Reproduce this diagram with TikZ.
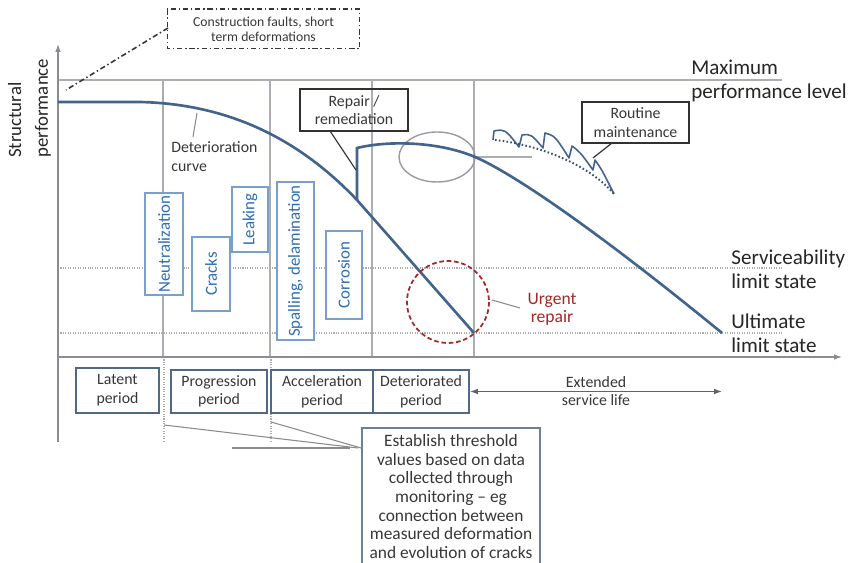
\documentclass[tikz,border=0pt]{standalone}
\usepackage{fontspec}
\setmainfont{Carlito}
\usetikzlibrary{arrows.meta}
\definecolor{curvecol}{RGB}{66,100,140}
\definecolor{gridcol}{RGB}{172,172,178}
\definecolor{axiscol}{RGB}{140,140,150}
\definecolor{bluetext}{RGB}{46,110,180}
\definecolor{blueborder}{RGB}{120,160,205}
\definecolor{periodcol}{RGB}{80,105,135}
\definecolor{txtcol}{RGB}{55,55,55}
\definecolor{urgentcol}{RGB}{165,40,40}
\newlength{\pxu}\setlength{\pxu}{0.02cm}
\newcommand{\setfs}[2]{\fontsize{#1}{#2}\selectfont}
\tikzset{
  gridline/.style={draw=gridcol, line width=0.6pt},
  dotline/.style={draw=gridcol, line width=0.6pt, dash pattern=on 0.6pt off 0.8pt},
  axisline/.style={draw=axiscol, line width=0.7pt},
  curveline/.style={draw=curvecol, line width=1.5pt},
  leader/.style={draw=gridcol!80!black, line width=0.6pt},
  darkleader/.style={draw=txtcol, line width=0.7pt},
  dashdotline/.style={draw=txtcol, line width=0.9pt, dash pattern=on 3pt off 1.6pt on 0.8pt off 1.6pt},
  bluebox/.style={draw=blueborder, fill=white, line width=0.9pt, text=bluetext, inner sep=0pt, font=\setfs{9.6}{10}},
  periodbox/.style={draw=periodcol, fill=white, line width=1.1pt, text=txtcol, inner sep=0pt, align=center, font=\setfs{9}{10.6}},
  callout/.style={draw=txtcol!90!black, line width=0.8pt, text=txtcol, inner sep=0pt, align=center, font=\setfs{9}{10.6}},
  biglabel/.style={text=black!85, inner sep=0pt, align=left, anchor=west, font=\setfs{12}{13.6}},
  smalllabel/.style={text=txtcol, inner sep=0pt, font=\setfs{9}{10.6}},
  tip/.style={-{Latex[length=4.5pt,width=3.2pt]}}
}
\begin{document}
\begin{tikzpicture}[x=0.02cm, y=-0.02cm]
\useasboundingbox (0,0) rectangle (849,563);
\fill[white] (0,0) rectangle (849,563);
\clip (0,0) rectangle (849,563);

% grid and limit lines
\draw[gridline] (58,80) -- (782,80);
\foreach \gx in {163,270,372,474} \draw[gridline] (\gx,80) -- (\gx,357);
\draw[dotline] (58,268) -- (782,268);
\draw[dotline] (58,333) -- (782,333);
\draw[dotline] (164,357) -- (164,443);
\draw[dotline] (271,357) -- (271,443);

% axes
\coordinate (ybot) at (58,442);
\coordinate (ytop) at (58,44);
\coordinate (xleft) at (58,357);
\coordinate (xright) at (842,357);
\draw[axisline, tip, axiscol] (ybot) -- (ytop);
\draw[axisline, tip, axiscol] (xleft) -- (xright);

% axis label
\node[rotate=90, anchor=west, align=left, inner sep=0pt, text=black!85, font=\setfs{10.7}{15.3}] (ylab) at (29.5,158) {Structural\\performance};

% right labels
\node[biglabel] (maxlab) at (691,81) {Maximum\\performance level};
\node[biglabel] (sls) at (731,269) {Serviceability\\limit state};
\node[biglabel] (uls) at (731,333) {Ultimate\\limit state};

% maintenance ellipse
\draw[gridcol!90!black, line width=0.8pt] (437,157) ellipse [x radius=38, y radius=25];
\coordinate (ell1) at (475,157);
\coordinate (ell2) at (532,157);
\draw[gridline] (ell1) -- (ell2);

% deterioration curve
\draw[curveline] (58,102) -- (140,102) .. controls (230,104) and (300,140) .. (357,200) -- (474,333);
% repair jump and extended curve
\draw[curveline, line join=miter] (357,200) -- (357,148) .. controls (390,140) and (440,142) .. (475,157) .. controls (510,172) and (590,225) .. (722,333);

% routine maintenance sawtooth
\draw[curvecol, line width=0.9pt, line join=round] (493,140) -- (494,131) .. controls (505,129) .. (519,147) -- (522,135) .. controls (531,134) .. (543,148) -- (545,133) .. controls (555,136) .. (569,158) -- (572,146) .. controls (580,152) .. (593,170) -- (595,160) .. controls (602,170) .. (614,194);
\draw[curvecol!80!black, line width=1.1pt, dash pattern=on 0.9pt off 1.3pt] (495,140) .. controls (540,145) and (590,165) .. (615,195);

% urgent repair
\draw[urgentcol, line width=1pt, dash pattern=on 2.6pt off 1.6pt] (448,302) circle [radius=41];
\node[text=urgentcol, inner sep=0pt, align=center, font=\setfs{10}{10.4}] (urgent) at (552,309) {Urgent\\repair};
\coordinate (urg1) at (492,300);
\coordinate (urg2) at (520,308);
\draw[leader] (urg1) -- (urg2);

% deterioration curve label
\node[smalllabel, align=left, anchor=west] (detlab) at (171,156.5) {Deterioration\\curve};
\coordinate (det1) at (197,113);
\coordinate (det2) at (193,137);
\draw[leader] (det1) -- (det2);

% blue damage boxes
\node[bluebox, minimum width=38\pxu, minimum height=102\pxu] (neut) at (164,244) {\rotatebox{90}{Neutralization}};
\node[bluebox, minimum width=38\pxu, minimum height=74\pxu] (cracks) at (211,274) {\rotatebox{90}{Cracks}};
\node[bluebox, minimum width=36\pxu, minimum height=65\pxu] (leak) at (250,219.5) {\rotatebox{90}{Leaking}};
\node[bluebox, minimum width=37\pxu, minimum height=158\pxu] (spall) at (295.5,261) {\rotatebox{90}{Spalling, delamination}};
\node[bluebox, minimum width=36\pxu, minimum height=88\pxu] (corr) at (344,275) {\rotatebox{90}{Corrosion}};

% callouts
\node[callout, minimum width=108\pxu, minimum height=42\pxu] (repair) at (354,110) {Repair /\\remediation};
\coordinate (rep1) at (330,131);
\coordinate (rep2) at (356,170);
\draw[darkleader] (rep1) -- (rep2);

\node[callout, minimum width=107\pxu, minimum height=41\pxu] (routine) at (635.5,122.5) {Routine\\maintenance};
\coordinate (rout1) at (612,143);
\coordinate (rout2) at (593,158);
\draw[darkleader] (rout1) -- (rout2);

\node[callout, draw=none, font=\setfs{7.8}{8.6}, minimum width=191\pxu, minimum height=38\pxu] (constr) at (263.5,29) {Construction faults, short\\term deformations};
\draw[dashdotline] (constr.north west) rectangle (constr.south east);
\coordinate (con1) at (168,28);
\coordinate (con2) at (66,90);
\draw[dashdotline] (con1) -- (con2);

% period boxes
\node[periodbox, minimum width=83\pxu, minimum height=45\pxu] (latent) at (117.5,390.5) {Latent\\period};
\node[periodbox, minimum width=96\pxu, minimum height=43\pxu] (progr) at (219,391.5) {Progression\\period};
\node[periodbox, minimum width=102\pxu, minimum height=43\pxu] (accel) at (322,391.5) {Acceleration\\period};
\node[periodbox, minimum width=96\pxu, minimum height=43\pxu] (deter) at (421,391.5) {Deteriorated\\period};

% extended service life
\coordinate (extend) at (722,391.5);
\draw[axiscol!70!black, line width=0.6pt, {Latex[length=4.5pt,width=3.2pt]}-{Latex[length=4.5pt,width=3.2pt]}] (deter.east) -- (extend);
\node[smalllabel, align=center] (extlab) at (596,391) {Extended\\service life};

% establish threshold box
\node[draw=periodcol!85!white, fill=white, line width=1pt, text=txtcol, inner sep=0pt, align=center, font=\setfs{9.9}{10.6}, minimum width=178\pxu, minimum height=137\pxu] (estab) at (451,496.5) {Establish threshold\\values based on data\\collected through\\monitoring -- eg\\connection between\\measured deformation\\and evolution of cracks};
\coordinate (est1) at (164,425);
\coordinate (est2) at (271,422);
\coordinate (est3) at (232,448);
\coordinate (est4) at (350,448);
\coordinate (est5) at (358,448);
\draw[leader] (est1) -- (est5);
\draw[leader] (est2) -- (estab.west |- est5);
\draw[leader] (est3) -- (est4);
\end{tikzpicture}
\end{document}
